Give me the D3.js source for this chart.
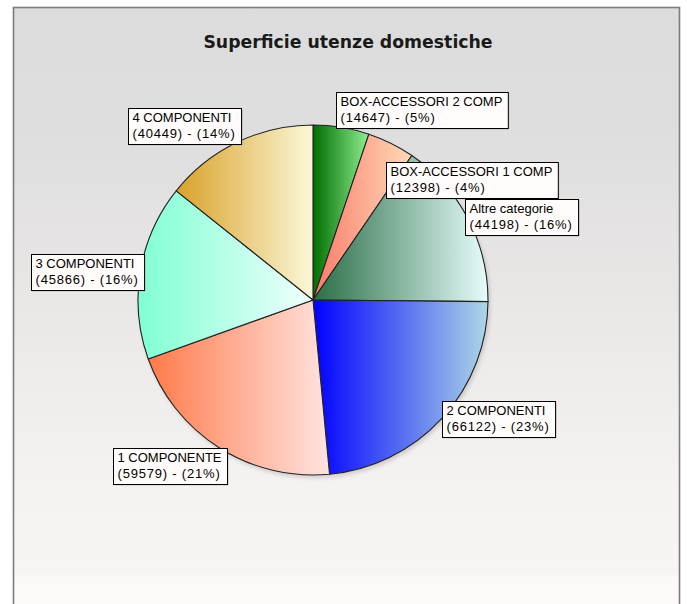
<!DOCTYPE html>
<html><head><meta charset="utf-8">
<script src="https://cdn.jsdelivr.net/npm/d3@7"></script>
<style>body{margin:0;background:#fff;overflow:hidden}</style>
</head><body>
<script>
// ---- data ----
const title = "Superficie utenze domestiche";
const categories = ["BOX-ACCESSORI 2 COMP","BOX-ACCESSORI 1 COMP","Altre categorie","2 COMPONENTI","1 COMPONENTE","3 COMPONENTI","4 COMPONENTI"];
const values = [14647, 12398, 44198, 66122, 59579, 45866, 40449];
const percents = ["5%","4%","16%","23%","21%","16%","14%"];
// ---- styles ----
const colorStart = ["#006e00","#fa7a68","#2a6e45","#0000ff","#ff7a4a","#7fffd4","#d9a12a"];
const colorEnd   = ["#90ee90","#ffdab9","#e6fcfc","#add8e6","#ffe4e1","#f0fffc","#fbf8d8"];
// label layout: horizontal / vertical offsets of the box from the slice's outer mid point
const labelDx = [-5, -5, -3, 0, 8, 4, 4];
const labelDy = [-35, 19, -20, -17, 0, -17, -34];

const W = 687, H = 604;
const svg = d3.select("body").append("svg").attr("width", W).attr("height", H);
const defs = svg.append("defs");

// background gradient
const bg = defs.append("linearGradient").attr("id","bg").attr("x1",0).attr("y1",0).attr("x2",0).attr("y2",1);
[[0,"#dcdcdc"],[0.2,"#dedede"],[0.45,"#e8e5e5"],[0.6,"#eeebeb"],[0.8,"#f5f2f1"],[0.935,"#f7f4f3"],[0.945,"#fcf9f8"],[1,"#fcf9f8"]]
  .forEach(([o,c]) => bg.append("stop").attr("offset",o).attr("stop-color",c));

svg.append("rect").attr("x",13.5).attr("y",7.5).attr("width",666).attr("height",H)
  .attr("fill","url(#bg)").attr("stroke","#7c7c7c").attr("stroke-width",1.6);

svg.append("text").attr("x",348).attr("y",48).attr("text-anchor","middle")
  .attr("font-family","DejaVu Sans, Verdana, sans-serif").attr("font-weight","bold")
  .attr("font-size",17.3).attr("fill","#1a1a1a").text(title);

// shadow filter
const f = defs.append("filter").attr("id","sh").attr("x","-20%").attr("y","-20%").attr("width","140%").attr("height","140%");
f.append("feDropShadow").attr("dx",2).attr("dy",3).attr("stdDeviation",2).attr("flood-color","#000").attr("flood-opacity",0.25);

values.forEach((v,i) => {
  const g = defs.append("linearGradient").attr("id","g"+i).attr("x1",0).attr("y1",0).attr("x2",1).attr("y2",0);
  g.append("stop").attr("offset",0).attr("stop-color",colorStart[i]);
  g.append("stop").attr("offset",1).attr("stop-color",colorEnd[i]);
});

const cx = 313, cy = 300, R = 175;
const pie = d3.pie().sort(null).value(d => d)(values);
const arc = d3.arc().innerRadius(0).outerRadius(R);

const pg = svg.append("g").attr("transform",`translate(${cx},${cy})`);
pg.append("circle").attr("r",R).attr("fill","#888").attr("filter","url(#sh)").attr("opacity",0.6);
pg.selectAll("path.slice").data(pie).join("path").attr("class","slice")
  .attr("d",arc).attr("fill",(d,i)=>`url(#g${i})`)
  .attr("stroke","#222").attr("stroke-width",1.1).attr("stroke-linejoin","round");

// labels
const lg = svg.append("g").attr("font-family","Liberation Sans, Arial, sans-serif").attr("font-size",13).attr("fill","#000");
pie.forEach((d,i) => {
  const a = (d.startAngle + d.endAngle)/2;
  const px = cx + R*Math.sin(a), py = cy - R*Math.cos(a);
  const right = Math.sin(a) >= 0;
  const g = lg.append("g");
  const rect = g.append("rect");
  const shadow = g.insert("rect","rect");
  const t1 = g.append("text").text(categories[i]);
  const t2 = g.append("text").attr("letter-spacing",0.8).text(`(${values[i]}) - (${percents[i]})`);
  const w = Math.max(t1.node().getComputedTextLength(), t2.node().getComputedTextLength()) + 10;
  const h = 36;
  const x0 = Math.round(right ? px + labelDx[i] : px + labelDx[i] - w);
  const y0 = Math.round(py + labelDy[i]);
  shadow.attr("x",x0+1.5).attr("y",y0+1.5).attr("width",w).attr("height",h).attr("fill","#9a9a9a").attr("opacity",0.5);
  rect.attr("x",x0+0.5).attr("y",y0+0.5).attr("width",w).attr("height",h).attr("fill","#fffcfb").attr("stroke","#000").attr("stroke-width",1);
  t1.attr("x",x0+4.5).attr("y",y0+14);
  t2.attr("x",x0+4.5).attr("y",y0+30);
});
</script>
</body></html>
